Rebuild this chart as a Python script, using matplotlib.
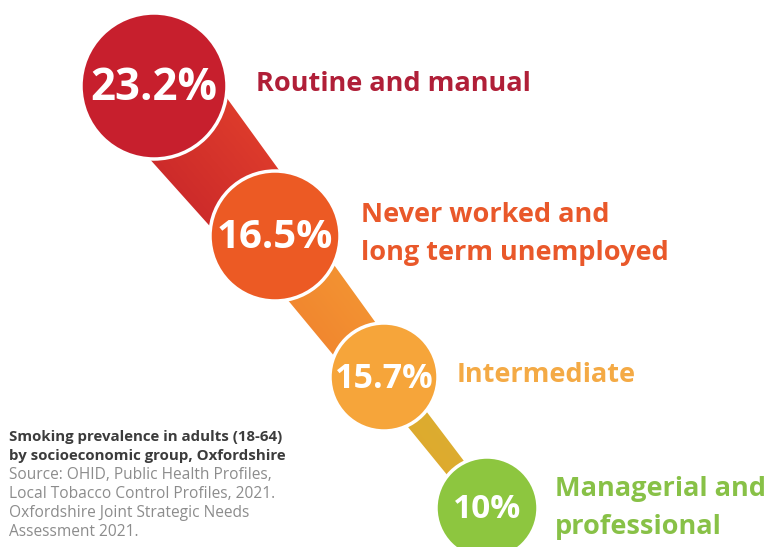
import numpy as np
import matplotlib
matplotlib.use("Agg")
import matplotlib.pyplot as plt
from matplotlib.patches import Circle, Polygon
from matplotlib.colors import LinearSegmentedColormap

# ---- data ----
groups = ["Routine and manual", "Never worked and\nlong term unemployed",
          "Intermediate", "Managerial and\nprofessional"]
values = [23.2, 16.5, 15.7, 10.0]
value_labels = ["23.2%", "16.5%", "15.7%", "10%"]
caption_title = ["Smoking prevalence in adults (18-64)",
                 "by socioeconomic group, Oxfordshire"]
caption_source = ["Source: OHID, Public Health Profiles,",
                  "Local Tobacco Control Profiles, 2021.",
                  "Oxfordshire Joint Strategic Needs",
                  "Assessment 2021."]

# ---- layout / style ----
centers = [(154, 86), (275, 236), (384, 377), (487, 508)]
radii = [73, 65, 54, 51]
circle_colors = ["#C71F2D", "#EC5A24", "#F6A53A", "#8DC63F"]
text_colors = ["#B01F38", "#E9582A", "#F4AA45", "#88C147"]
label_pos = [(256, 84), (361, 234), (457, 375), (555, 508)]
pct_size = [31.5, 29, 24.5, 24]
conn_widths = [(52, 42), (31, 25), (13, 10)]
conn_colors = [("#BE1C2A", "#EC4A2C"), ("#EE772B", "#F6A236"), ("#E4A52C", "#D6B232")]

W, H = 768, 547
fig = plt.figure(figsize=(W / 100, H / 100), dpi=100)
ax = fig.add_axes([0, 0, 1, 1])
ax.set_xlim(0, W)
ax.set_ylim(H, 0)
ax.axis("off")

font = "Open Sans"

# connectors
for i in range(len(values) - 1):
    (x0, y0), (x1, y1) = centers[i], centers[i + 1]
    d = np.array([x1 - x0, y1 - y0], float)
    d /= np.linalg.norm(d)
    p = np.array([d[1], -d[0]])
    w0, w1 = conn_widths[i]
    a = np.array([x0, y0]); b = np.array([x1, y1])
    pts = np.array([a + p * w0, b + p * w1, b - p * w1, a - p * w0])
    poly = Polygon(pts, closed=True, facecolor="none", edgecolor="none")
    ax.add_patch(poly)
    xmin, ymin = pts.min(axis=0)
    xmax, ymax = pts.max(axis=0)
    gx, gy = np.meshgrid(np.linspace(xmin, xmax, 200), np.linspace(ymin, ymax, 200))
    t = ((gx - x0) * p[0] + (gy - y0) * p[1])
    t = (t - t.min()) / (t.max() - t.min())
    cmap = LinearSegmentedColormap.from_list("c%d" % i, [conn_colors[i][0], conn_colors[i][1]])
    im = ax.imshow(t, extent=(xmin, xmax, ymax, ymin), origin="upper", cmap=cmap,
                   interpolation="bilinear", zorder=1, aspect="auto")
    im.set_clip_path(poly)

ax.set_xlim(0, W)
ax.set_ylim(H, 0)

for i, v in enumerate(values):
    c = Circle(centers[i], radii[i], facecolor=circle_colors[i], edgecolor="white",
               linewidth=2.5, zorder=3)
    ax.add_patch(c)
    ax.text(centers[i][0], centers[i][1] + 2, value_labels[i], ha="center", va="center",
            color="white", fontsize=pct_size[i], fontweight="bold", family=font, zorder=4)
    ax.text(label_pos[i][0], label_pos[i][1], groups[i], ha="left", va="center",
            color=text_colors[i], fontsize=19.5, fontweight="bold", family=font,
            linespacing=1.55, zorder=4)

y = 437
for line in caption_title:
    ax.text(9, y, line, ha="left", va="center", fontsize=10.8, fontweight="bold",
            color="#3C3C3C", family=font)
    y += 19
for line in caption_source:
    ax.text(9, y, line, ha="left", va="center", fontsize=11.2, color="#8C8C8C", family=font)
    y += 19

fig.savefig("out.png", dpi=100, facecolor="white")
